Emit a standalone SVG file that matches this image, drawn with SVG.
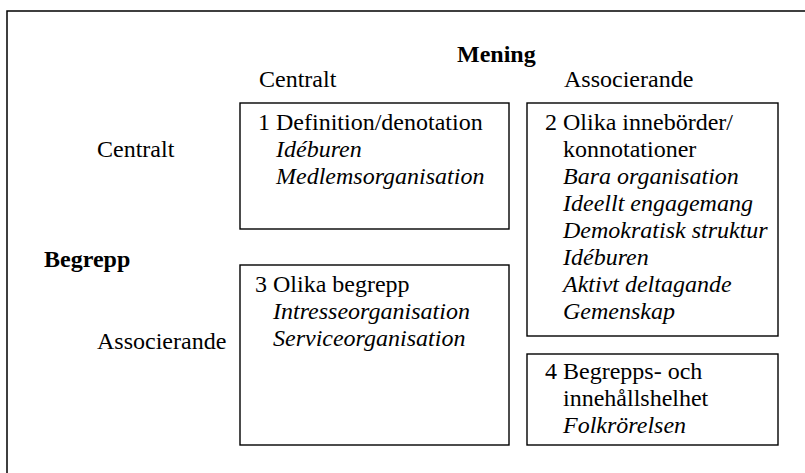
<svg xmlns="http://www.w3.org/2000/svg" width="805" height="473" viewBox="0 0 805 473" font-family="'Liberation Serif', 'DejaVu Serif', serif" font-size="24">
<style>
  text { font-family: 'Liberation Serif', 'DejaVu Serif', serif; font-size: 24px; fill: #000; }
  .b { font-weight: bold; }
  .i { font-style: italic; }
  .box { fill: #fff; stroke: #000; stroke-width: 1.4; }
  .frame { fill: none; stroke: #000; stroke-width: 1.5; }
</style>
<rect width="805" height="473" fill="#fff"/>
<g id="frame">
  <path class="frame" d="M7,473 V11 H805"/>
</g>
<g id="labels">
  <text class="b" x="457" y="62">Mening</text>
  <text x="259" y="87">Centralt</text>
  <text x="564" y="87">Associerande</text>
  <text x="97" y="157">Centralt</text>
  <text class="b" x="44" y="267">Begrepp</text>
  <text x="97" y="349">Associerande</text>
</g>
<g id="box1">
  <rect class="box" x="240" y="103" width="269" height="126"/>
  <text x="258" y="130">1 Definition/denotation</text>
  <text class="i" x="276" y="157">Idéburen</text>
  <text class="i" x="276" y="184">Medlemsorganisation</text>
</g>
<g id="box2">
  <rect class="box" x="527" y="103" width="251" height="233"/>
  <text x="545" y="130">2 Olika innebörder/</text>
  <text x="563" y="157">konnotationer</text>
  <text class="i" x="563" y="184">Bara organisation</text>
  <text class="i" x="563" y="211">Ideellt engagemang</text>
  <text class="i" x="563" y="238">Demokratisk struktur</text>
  <text class="i" x="563" y="265">Idéburen</text>
  <text class="i" x="563" y="292">Aktivt deltagande</text>
  <text class="i" x="563" y="319">Gemenskap</text>
</g>
<g id="box3">
  <rect class="box" x="240" y="265" width="269" height="180"/>
  <text x="255" y="292">3 Olika begrepp</text>
  <text class="i" x="273" y="319">Intresseorganisation</text>
  <text class="i" x="273" y="346">Serviceorganisation</text>
</g>
<g id="box4">
  <rect class="box" x="527" y="354" width="251" height="91"/>
  <text x="545" y="379">4 Begrepps- och</text>
  <text x="563" y="406">innehållshelhet</text>
  <text class="i" x="563" y="433">Folkrörelsen</text>
</g>
<g id="connectors"></g>
</svg>
